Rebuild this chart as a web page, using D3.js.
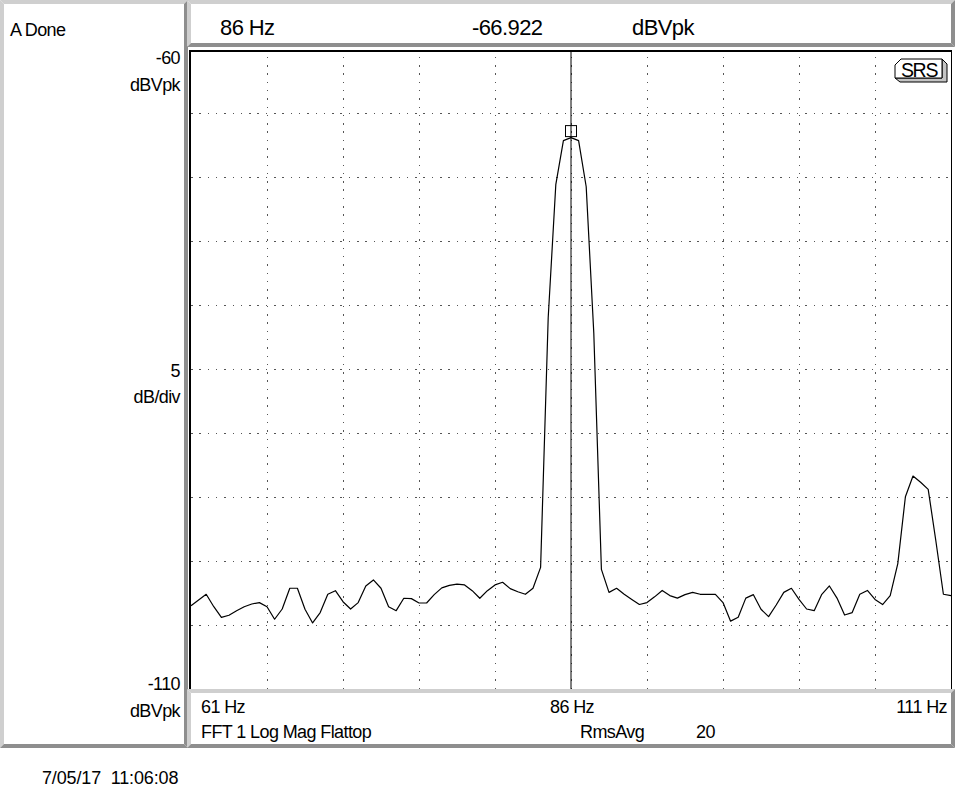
<!DOCTYPE html>
<html>
<head>
<meta charset="utf-8">
<script src="https://cdn.jsdelivr.net/npm/d3@7/dist/d3.min.js"></script>
<style>
  html, body { margin: 0; padding: 0; background: #fff; }
  svg { display: block; }
  text { font-family: "Liberation Sans", Arial, Helvetica, sans-serif; fill: #000; white-space: pre; }
</style>
</head>
<body>
<svg id="chart" width="955" height="799"></svg>
<script>
// ---------------- data ----------------
const freqStart = 61;          // Hz
const freqStep = 0.5;          // Hz per FFT bin
const magnitudes = [           // dBVpk, one per bin 61 .. 111 Hz
  -103.5, -103.05, -102.6, -103.57, -104.4, -104.24, -103.88, -103.57, -103.36, -103.25,
  -103.57, -104.55, -103.75, -102.13, -102.13, -103.77, -104.84, -104.03, -102.6, -102.32,
  -103.18, -103.75, -103.25, -101.95, -101.48, -102.13, -103.57, -103.88, -102.91, -102.94,
  -103.28, -103.28, -102.63, -102.1, -101.9, -101.8, -101.87, -102.32, -102.91, -102.32,
  -101.87, -101.66, -102.16, -102.4, -102.6, -102.13, -100.5, -81.0, -70.6, -67.16,
  -66.922, -67.16, -70.76, -82.2, -100.65, -102.45, -102.13, -102.6, -103.0, -103.4,
  -103.25, -102.8, -102.3, -102.7, -102.9, -102.63, -102.45, -102.6, -102.6, -102.6,
  -103.25, -104.7, -104.4, -102.9, -102.63, -103.77, -104.35, -103.44, -102.45, -102.13,
  -103.0, -103.75, -103.88, -102.6, -101.95, -102.9, -104.22, -104.03, -102.6, -102.3,
  -103.0, -103.4, -102.7, -100.2, -94.98, -93.36, -93.85, -94.4, -98.4, -102.6, -102.7
];
const xDomain = [61, 111];
const yDomain = [-60, -110];
const xGridTicks = [61, 66, 71, 76, 81, 86, 91, 96, 101, 106, 111];
const yGridTicks = [-60, -65, -70, -75, -80, -85, -90, -95, -100, -105, -110];
const xTickLabels = ["61 Hz", "86 Hz", "111 Hz"];
const yTopLabels = ["-60", "dBVpk"];
const yMidLabels = ["5", "dB/div"];
const yBotLabels = ["-110", "dBVpk"];
const markerFreq = 86;
const markerReadout = ["86 Hz", "-66.922", "dBVpk"];
const statusText = "A Done";
const measText = "FFT 1 Log Mag Flattop";
const avgLabels = ["RmsAvg", "20"];
const dateText = "7/05/17  11:06:08";
const logoText = "SRS";

// ---------------- layout ----------------
const svg = d3.select("#chart");
const P = { left: 191, right: 951, top: 49, bottom: 689 };

const x = d3.scaleLinear().domain(xDomain).range([P.left, P.right]);
const y = d3.scaleLinear().domain(yDomain).range([P.top, P.bottom]);

const LIGHT = "#cfcfcf", DARK = "#8e8e8e";
function bevel(x0, y0, w, h, t) {
  const g = svg.append("g");
  const x1 = x0 + w, y1 = y0 + h;
  const poly = (pts, c) => g.append("polygon").attr("points", pts.map(p => p.join(",")).join(" ")).attr("fill", c);
  poly([[x0, y0], [x1, y0], [x1 - t, y0 + t], [x0 + t, y0 + t]], LIGHT);
  poly([[x0, y0], [x0 + t, y0 + t], [x0 + t, y1 - t], [x0, y1]], LIGHT);
  poly([[x0, y1], [x0 + t, y1 - t], [x1 - t, y1 - t], [x1, y1]], DARK);
  poly([[x1, y0], [x1, y1], [x1 - t, y1 - t], [x1 - t, y0 + t]], DARK);
}

// panels
bevel(0, 0, 188, 748, 4);
bevel(187, 0, 768, 47, 4);
bevel(187, 689, 768, 59, 4);

// ---------------- grid ----------------
const grid = svg.append("g");
grid.append("g")
  .attr("transform", `translate(0,${P.bottom})`)
  .call(d3.axisBottom(x).tickValues(xGridTicks.slice(1, -1)).tickSize(-(P.bottom - 51)).tickFormat(""));
grid.append("g")
  .attr("transform", `translate(${P.left},0)`)
  .call(d3.axisLeft(y).tickValues(yGridTicks.slice(1, -1)).tickSize(-(P.right - P.left)).tickFormat(""));
grid.selectAll(".domain").remove();
grid.selectAll(".tick line")
  .attr("stroke", "#555")
  .attr("stroke-width", 1)
  .attr("stroke-dasharray", "1.5,6.8")
  .attr("shape-rendering", "crispEdges");

// plot frame
const frame = svg.append("g").attr("stroke", "#000").attr("stroke-width", 1.5).attr("shape-rendering", "crispEdges");
frame.append("line").attr("x1", 189.5).attr("x2", 952).attr("y1", 51).attr("y2", 51);
frame.append("line").attr("x1", 190).attr("x2", 190).attr("y1", 50).attr("y2", 689);
frame.append("line").attr("x1", 951.5).attr("x2", 951.5).attr("y1", 50).attr("y2", 689);

// ---------------- cursor ----------------
svg.append("line")
  .attr("x1", x(markerFreq)).attr("x2", x(markerFreq))
  .attr("y1", 51).attr("y2", P.bottom)
  .attr("stroke", "#000").attr("stroke-width", 1);

// ---------------- trace ----------------
const pts = magnitudes.map((v, i) => [freqStart + i * freqStep, v]);
const line = d3.line().x(d => x(d[0])).y(d => y(d[1]));
svg.append("path")
  .datum(pts)
  .attr("d", line)
  .attr("fill", "none")
  .attr("stroke", "#000")
  .attr("stroke-width", 1.2)
  .attr("stroke-linejoin", "round");

// marker square
const peak = pts.find(d => d[0] === markerFreq);
svg.append("rect")
  .attr("x", x(peak[0]) - 5.5).attr("y", y(peak[1]) - 12)
  .attr("width", 11).attr("height", 11)
  .attr("fill", "none")
  .attr("stroke", "#000").attr("stroke-width", 1);

// ---------------- SRS logo ----------------
const logo = svg.append("g");
logo.append("polygon")
  .attr("points", "942,59 947,64 947,82 900,82 895,78 942,78")
  .attr("fill", "#c4c4c4").attr("stroke", "#000").attr("stroke-width", 1);
logo.append("polygon")
  .attr("points", "901,59 942,59 942,78 895,78 895,65")
  .attr("fill", "#fff").attr("stroke", "#000").attr("stroke-width", 1);
logo.append("text").attr("x", 919).attr("y", 77).attr("text-anchor", "middle")
  .attr("font-size", 19.5).attr("letter-spacing", -1.3).text(logoText);

// ---------------- texts ----------------
const T = (tx, ty, s, opts = {}) => svg.append("text")
  .attr("x", tx).attr("y", ty)
  .attr("font-size", opts.size || 18)
  .attr("letter-spacing", opts.ls !== undefined ? opts.ls : -0.6)
  .attr("text-anchor", opts.anchor || "start")
  .text(s);

T(10, 36, statusText);
T(180, 64, yTopLabels[0], { anchor: "end" });
T(180, 91, yTopLabels[1], { anchor: "end" });
T(180, 377, yMidLabels[0], { anchor: "end" });
T(180, 403, yMidLabels[1], { anchor: "end" });
T(180, 690, yBotLabels[0], { anchor: "end" });
T(180, 717, yBotLabels[1], { anchor: "end" });

T(220, 35, markerReadout[0], { size: 22 });
T(472, 35, markerReadout[1], { size: 22 });
T(632, 35, markerReadout[2], { size: 22 });

T(x(61) + 10, 713, xTickLabels[0]);
T(x(86) - 21, 713, xTickLabels[1]);
T(x(111) - 4, 713, xTickLabels[2], { anchor: "end" });
T(201, 738, measText);
T(580, 738, avgLabels[0]);
T(696, 738, avgLabels[1]);
T(42, 784, dateText, { ls: -0.15 });
</script>
</body>
</html>
